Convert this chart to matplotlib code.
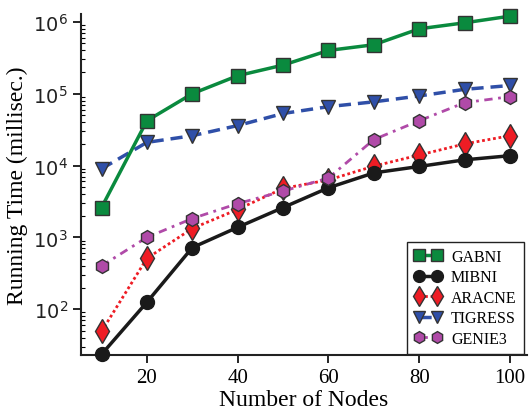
import matplotlib
matplotlib.use("Agg")
import matplotlib.pyplot as plt
from matplotlib.ticker import LogLocator, NullFormatter

nodes = [10, 20, 30, 40, 50, 60, 70, 80, 90, 100]
gabni = [2600, 42000, 100000, 178000, 250000, 400000, 480000, 800000, 970000, 1200000]
mibni = [23.5, 125, 720, 1380, 2600, 4900, 7900, 9700, 12000, 13700]
aracne = [49, 510, 1330, 2450, 4800, 6300, 9800, 14000, 20000, 26000]
tigress = [9000, 21000, 26000, 36000, 53000, 66000, 77000, 93000, 115000, 130000]
genie3 = [400, 1000, 1830, 2950, 4400, 6700, 23000, 42000, 75000, 91000]

fig = plt.figure(figsize=(5.3, 4.14), dpi=100)
ax = fig.add_axes([0.153, 0.14, 0.841, 0.824])

serif = ['Liberation Serif', 'DejaVu Serif']

ax.plot(nodes, gabni, color='#0a8a3e', lw=2.5, ls='-', marker='s', ms=9.5,
        mfc='#0a8a3e', mec='#333333', mew=1.0, label='GABNI', clip_on=False, zorder=5)
ax.plot(nodes, mibni, color='#1a1a1a', lw=2.5, ls='-', marker='o', ms=10,
        mfc='#1a1a1a', mec='#1a1a1a', mew=1.0, label='MIBNI', clip_on=False, zorder=4)
ax.plot(nodes, aracne, color='#ee1c24', lw=2.0, ls=(0, (1, 1)), marker='d', ms=12,
        mfc='#ee1c24', mec='#333333', mew=1.0, label='ARACNE', clip_on=False, zorder=3)
ax.plot(nodes, tigress, color='#2f4fa8', lw=2.5, ls=(0, (3.5, 2)), marker='v', ms=10,
        mfc='#2f4fa8', mec='#333333', mew=1.0, label='TIGRESS', clip_on=False, zorder=3)
ax.plot(nodes, genie3, color='#b04aa8', lw=2.0, ls=(0, (3, 2, 1, 2)), marker='h', ms=10,
        mfc='#b04aa8', mec='#333333', mew=1.0, label='GENIE3', clip_on=False, zorder=4)

ax.set_yscale('log')
ax.set_xlim(5.5, 103.7)
ax.set_ylim(23, 1.29e6)
ax.set_xticks([20, 40, 60, 80, 100])
ax.set_xticklabels(['20', '40', '60', '80', '100'], fontfamily=serif, fontsize=15)
ax.yaxis.set_major_locator(LogLocator(base=10, numticks=10))
ax.yaxis.set_minor_locator(LogLocator(base=10, subs=range(2, 10), numticks=20))
ax.yaxis.set_minor_formatter(NullFormatter())
ax.tick_params(axis='y', which='major', direction='out', length=6, width=1.2, labelsize=14,
               labelcolor='#222222')
ax.tick_params(axis='y', which='minor', direction='in', length=3, width=0.8)
ax.tick_params(axis='x', which='major', direction='out', length=6, width=1.2, pad=3)
ax.tick_params(axis='x', which='minor', bottom=False)

for s in ['top', 'right']:
    ax.spines[s].set_visible(False)
for s in ['left', 'bottom']:
    ax.spines[s].set_linewidth(1.5)
    ax.spines[s].set_color('#222222')

ax.set_xlabel('Number of Nodes', fontfamily=serif, fontsize=17, labelpad=2)
ax.set_ylabel('Running Time (millisec.)', fontfamily=serif, fontsize=17, labelpad=4)

leg = ax.legend(loc='lower right', bbox_to_anchor=(0.993, 0.003), numpoints=2,
                prop={'family': serif, 'size': 11.5}, fancybox=False, framealpha=1,
                edgecolor='#222222', handlelength=1.7, labelspacing=0.28,
                borderpad=0.45, handletextpad=0.6, borderaxespad=0.0, markerscale=0.85)
leg.get_frame().set_linewidth(1.0)

fig.savefig('out.png', dpi=100)
